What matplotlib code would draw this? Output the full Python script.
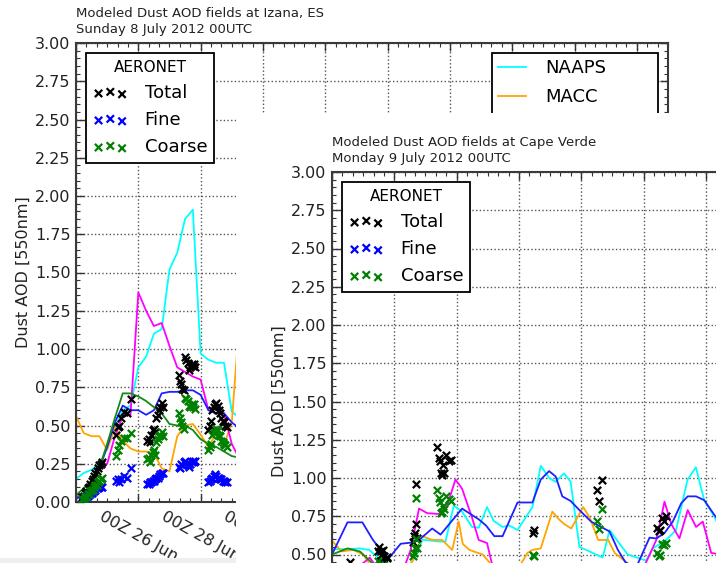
import matplotlib
matplotlib.use("Agg")
import matplotlib.pyplot as plt
from matplotlib.ticker import MultipleLocator, FuncFormatter
from matplotlib.patches import Rectangle
import datetime as dt

# ------------------------------------------------------------------
# Common
model_names = ["NAAPS", "MACC", "", "", ""]          # only the first two are legible
model_colors = ["#00ffff", "#ffa500", "#ff00ff", "#1f1fff", "#138a13"]
obs_names = ["Total", "Fine", "Coarse"]
obs_colors = ["black", "#0000ff", "#008000"]
y_label = "Dust AOD [550nm]"

# ------------------------------------------------------------------
# Panel 1: Izana (hours since 24 Jun 2012 00Z)
iz_title = "Modeled Dust AOD fields at Izana, ES\nSunday 8 July 2012 00UTC"
iz_start = dt.datetime(2012, 6, 24, 0)
iz_model_hours = [0, 6, 12, 18, 24, 30, 36, 42, 48, 54, 60, 66, 72, 78, 84,
                  90, 96, 102, 108, 114, 120, 126]
iz_naaps = [0.15, 0.19, 0.21, 0.25, 0.35, 0.48, 0.60, 0.63, 0.88, 0.95, 1.10,
            1.13, 1.52, 1.63, 1.85, 1.91, 0.97, 0.93, 0.91, 0.91, 0.59, 0.55]
iz_macc = [0.56, 0.45, 0.43, 0.43, 0.34, 0.49, 0.40, 0.35, 0.33, 0.33, 0.32,
           0.22, 0.20, 0.43, 0.50, 0.51, 0.44, 0.36, 0.45, 0.37, 0.52, 1.20]
iz_magenta = [0.035, 0.045, 0.09, 0.24, 0.25, 0.43, 0.56, 0.57, 1.37, 1.25, 1.15,
              1.17, 1.02, 0.88, 0.85, 0.82, 0.80, 0.60, 0.58, 0.58, 0.38, 0.28]
iz_blue = [0.02, 0.05, 0.10, 0.22, 0.36, 0.52, 0.63, 0.60, 0.60, 0.57, 0.60,
           0.71, 0.72, 0.72, 0.73, 0.73, 0.70, 0.60, 0.58, 0.58, 0.52, 0.48]
iz_green = [0.045, 0.09, 0.14, 0.22, 0.38, 0.55, 0.71, 0.71, 0.69, 0.66, 0.62,
            0.58, 0.51, 0.50, 0.50, 0.47, 0.41, 0.38, 0.36, 0.33, 0.30, 0.29]

iz_obs_hours = [5, 6, 7, 8, 9, 10, 11, 12, 13, 14, 15, 16, 17, 18, 19, 20,
                31, 32, 33, 35, 37, 39, 42,
                55, 56, 57, 58, 59, 60, 61, 62, 63, 64, 65, 66, 67,
                79, 80, 81, 82, 83, 84, 85, 86, 87, 88, 89, 90, 91, 92,
                102, 103, 104, 105, 106, 107, 108, 109, 110, 111, 112, 113, 114, 115, 116]
iz_total = [0.03, 0.04, 0.06, 0.07, 0.09, 0.10, 0.12, 0.14, 0.15, 0.17, 0.19, 0.20, 0.22, 0.24, 0.25, 0.26,
            0.44, 0.49, 0.50, 0.55, 0.59, 0.58, 0.67,
            0.40, 0.41, 0.39, 0.44, 0.47, 0.48, 0.46, 0.55, 0.57, 0.60, 0.62, 0.65, 0.62,
            0.83, 0.79, 0.77, 0.74, 0.73, 0.95, 0.93, 0.91, 0.86, 0.88, 0.90, 0.89, 0.90, 0.88,
            0.47, 0.50, 0.53, 0.60, 0.62, 0.64, 0.65, 0.63, 0.60, 0.58, 0.55, 0.53, 0.52, 0.50, 0.49]
iz_fine = [0.01, 0.02, 0.03, 0.03, 0.04, 0.05, 0.05, 0.06, 0.07, 0.07, 0.08, 0.09, 0.09, 0.10, 0.10, 0.10,
           0.14, 0.15, 0.13, 0.15, 0.17, 0.16, 0.22,
           0.12, 0.12, 0.13, 0.13, 0.14, 0.14, 0.15, 0.16, 0.16, 0.17, 0.18, 0.19, 0.19,
           0.23, 0.22, 0.25, 0.24, 0.26, 0.27, 0.25, 0.24, 0.23, 0.25, 0.26, 0.27, 0.26, 0.27,
           0.13, 0.14, 0.15, 0.16, 0.17, 0.18, 0.17, 0.16, 0.16, 0.15, 0.15, 0.14, 0.14, 0.13, 0.13]
iz_coarse = [0.02, 0.02, 0.03, 0.04, 0.05, 0.05, 0.07, 0.08, 0.08, 0.10, 0.11, 0.11, 0.13, 0.14, 0.15, 0.16,
             0.30, 0.34, 0.37, 0.40, 0.42, 0.42, 0.45,
             0.28, 0.29, 0.26, 0.31, 0.33, 0.34, 0.31, 0.39, 0.41, 0.43, 0.44, 0.46, 0.43,
             0.58, 0.55, 0.52, 0.50, 0.48, 0.68, 0.67, 0.66, 0.63, 0.62, 0.64, 0.62, 0.64, 0.61,
             0.34, 0.36, 0.38, 0.44, 0.45, 0.46, 0.48, 0.47, 0.44, 0.43, 0.40, 0.39, 0.38, 0.37, 0.36]

# ------------------------------------------------------------------
# Panel 2: Cape Verde (hours since 25 Jun 2012 00Z)
cv_title = "Modeled Dust AOD fields at Cape Verde\nMonday 9 July 2012 00UTC"
cv_start = dt.datetime(2012, 6, 25, 0)
cv_naaps_hours = [0, 13.8, 21.0, 28.6, 36.3, 48, 60, 64.4, 69.6, 72.1, 82.3, 87.4, 93.8,
                  100.2, 107.9, 113.0, 119.4, 124.5, 131.4, 136.5, 142.9, 154.4, 160.8,
                  167.2, 172.3, 178.7, 183.8, 190.6, 208.5, 213.8, 220.2, 227.8, 242.0,
                  247.1, 257.4, 265.0, 273.9, 280.3, 286.7, 294.4, 300]
cv_naaps = [0.535, 0.535, 0.54, 0.53, 0.475, 0.42, 0.43, 0.49, 0.595, 0.595, 0.585, 0.585,
            0.82, 0.78, 0.68, 0.675, 0.81, 0.72, 0.68, 0.69, 0.66, 0.81, 1.08, 1.00, 0.975,
            1.03, 0.975, 0.55, 0.48, 0.66, 0.585, 0.50, 0.46, 0.54, 0.595, 0.66, 0.99, 1.07,
            0.855, 0.75, 0.65]
cv_macc_hours = [0, 7.4, 16.3, 24.0, 32, 45, 55, 62.1, 69.6, 77.2, 84.9, 92.6, 97.6, 100.7,
                 105.8, 116.0, 120.6, 128, 140, 150.5, 154.4, 160.8, 169.7, 174.8, 178.7,
                 184.3, 193.5, 198.6, 205.0, 212.7, 217.8, 226.6, 235, 250, 270, 300]
cv_macc = [0.59, 0.52, 0.53, 0.50, 0.40, 0.35, 0.38, 0.46, 0.62, 0.595, 0.595, 0.53, 0.715,
           0.57, 0.53, 0.50, 0.455, 0.38, 0.36, 0.51, 0.53, 0.54, 0.78, 0.73, 0.70, 0.67,
           0.81, 0.74, 0.595, 0.595, 0.51, 0.45, 0.38, 0.33, 0.35, 0.40]
cv_magenta_hours = [0, 15, 29.1, 36, 48, 56.7, 60.6, 67.0, 73.4, 82.3, 88.7, 95.1, 100.2,
                    107.9, 113.0, 119.4, 123.2, 135, 180, 220, 237, 242.0, 249.8, 256.1,
                    261.3, 267.6, 274.0, 280.4, 285.6, 292.1, 300]
cv_magenta = [0.35, 0.38, 0.48, 0.40, 0.34, 0.44, 0.53, 0.80, 0.77, 0.765, 0.82, 0.99, 0.93,
              0.74, 0.595, 0.575, 0.44, 0.32, 0.30, 0.32, 0.38, 0.45, 0.595, 0.845, 0.70,
              0.605, 0.79, 0.68, 0.715, 0.51, 0.50]
cv_blue_hours = [0, 11.9, 23.4, 31.2, 38.9, 43.7, 52.9, 63.1, 67.0, 77.2, 83.6, 100.2, 113.0,
                 118.6, 125.0, 131.4, 142.9, 154.4, 160.8, 167.2, 172.3, 177.4, 183.8, 190.6,
                 199.6, 207.3, 213.8, 220.2, 226, 234, 244.6, 249.8, 256.1, 262.5, 269.0,
                 274.0, 280.4, 286.7, 294.4, 300]
cv_blue = [0.50, 0.71, 0.71, 0.60, 0.51, 0.475, 0.57, 0.58, 0.595, 0.67, 0.63, 0.80, 0.73,
           0.69, 0.62, 0.62, 0.84, 0.84, 0.99, 1.045, 1.01, 0.88, 0.85, 0.79, 0.715, 0.68,
           0.65, 0.53, 0.45, 0.41, 0.61, 0.605, 0.64, 0.715, 0.835, 0.88, 0.88, 0.855, 0.76,
           0.70]
cv_green_hours = [0, 12, 21.5, 29, 40, 60, 100, 150, 200, 250, 300]
cv_green = [0.50, 0.54, 0.52, 0.46, 0.36, 0.30, 0.30, 0.28, 0.30, 0.28, 0.30]

cv_obs_hours = [14.0, 35.5, 36.3, 37.0, 37.6, 38.1, 39.0, 40.0, 41.0, 42.0, 42.7,
                62.5, 63.2, 64.0, 64.4, 65.0, 65.6,
                81.1, 82.3, 83.4, 84.1, 85.0, 85.4, 86.6, 88.0, 90.5, 91.8,
                154.9, 155.4, 204.0, 205.3, 207.8,
                250.5, 252.0, 253.0, 254.3, 255.5, 256.9]
cv_total = [0.45, 0.52, 0.55, 0.46, 0.50, 0.52, 0.53, 0.49, 0.45, 0.475, 0.485,
            0.58, 0.62, 0.64, 0.96, 0.70, 0.61,
            1.20, 1.13, 1.11, 1.03, 1.02, 1.085, 1.03, 1.15, 1.11, 1.12,
            0.64, 0.66, 0.92, 0.85, 0.99,
            0.67, 0.655, 0.66, 0.74, 0.72, 0.75]
cv_fine = [0.09, 0.06, 0.12, 0.11, 0.10, 0.10, 0.10, 0.09, 0.08, 0.095, 0.085,
           0.09, 0.11, 0.10, 0.09, 0.10, 0.07,
           0.28, 0.26, 0.27, 0.26, 0.24, 0.265, 0.23, 0.27, 0.25, 0.27,
           0.14, 0.17, 0.20, 0.185, 0.19,
           0.16, 0.165, 0.16, 0.17, 0.16, 0.175]
cv_coarse = [0.36, 0.46, 0.43, 0.35, 0.40, 0.42, 0.43, 0.40, 0.37, 0.38, 0.40,
             0.49, 0.51, 0.54, 0.87, 0.60, 0.54,
             0.92, 0.87, 0.84, 0.77, 0.78, 0.82, 0.80, 0.88, 0.86, 0.85,
             0.50, 0.49, 0.72, 0.665, 0.80,
             0.51, 0.49, 0.50, 0.57, 0.56, 0.575]

# ------------------------------------------------------------------
W, H = 716, 563
fig = plt.figure(figsize=(W / 100, H / 100), dpi=100)
fig.patch.set_facecolor("white")

SPAN_H = 19 * 24          # 19 days on the time axis
AX_W, AX_H = 592, 459      # axes size in pixels
LABEL_MAX_H = 150          # date labels further right lie under the second sheet


def make_panel(left_px, top_px, title, start, series, obs, zorder,
               model_legend, date_labels):
    ax = fig.add_axes([left_px / W, 1 - (top_px + AX_H) / H, AX_W / W, AX_H / H])
    ax.set_zorder(zorder)
    ax.set_facecolor("white")
    lines = []
    for (hrs, vals), col in zip(series, model_colors):
        ln, = ax.plot(hrs, vals, color=col, lw=1.3)
        lines.append(ln)
    o_hours, o_vals = obs
    scs = []
    for vals, col in zip(o_vals, obs_colors):
        sc = ax.scatter(o_hours, vals, marker="x", s=28, linewidths=1.6,
                        color=col, zorder=3)
        scs.append(sc)
    ax.set_xlim(0, SPAN_H)
    ax.set_ylim(0, 3.0)
    ax.yaxis.set_major_locator(MultipleLocator(0.25))
    ax.yaxis.set_minor_locator(MultipleLocator(0.05))
    ax.yaxis.set_major_formatter(FuncFormatter(lambda v, p: f"{v:.2f}"))
    ax.xaxis.set_major_locator(MultipleLocator(48))
    ax.xaxis.set_minor_locator(MultipleLocator(8))
    ax.xaxis.set_major_formatter(FuncFormatter(
        lambda h, p: (start + dt.timedelta(hours=h)).strftime("%HZ %d %b")
        if 0 < h <= LABEL_MAX_H else ""))
    ax.tick_params(which="both", direction="in", top=True, right=True,
                   colors="#333333", labelcolor="#222222")
    ax.tick_params(which="major", length=6, width=1.0, labelsize=11.5, pad=4)
    ax.tick_params(which="minor", length=3, width=0.8)
    ax.tick_params(axis="x", pad=5, labelbottom=date_labels)
    for lab in ax.get_xticklabels():
        lab.set_rotation(-29)
        lab.set_ha("center")
    for sp in ax.spines.values():
        sp.set_color("#3a3a3a")
        sp.set_linewidth(1.5)
    ax.grid(True, which="major", ls=":", color="#555555", lw=1.0)
    ax.set_axisbelow(True)
    ax.set_ylabel(y_label, fontsize=11.5, color="#222222", labelpad=3)
    ax.set_title(title, loc="left", fontsize=9.5, color="#222222", pad=7,
                 linespacing=1.3)

    leg1 = ax.legend(handles=scs, labels=obs_names, title="AERONET",
                     loc="upper left", scatterpoints=3, fontsize=13,
                     title_fontsize=11, fancybox=False, framealpha=1,
                     edgecolor="black", borderaxespad=0.55, handlelength=1.9,
                     handletextpad=0.95, labelspacing=0.5, borderpad=0.4)
    leg1.get_frame().set_linewidth(1.3)
    if model_legend:
        ax.add_artist(leg1)
        # legend box spans from x = 492 px to the right edge minus the pad
        left_frac = (482 - left_px) / AX_W
        leg2 = ax.legend(handles=lines, labels=model_names, loc="upper right",
                         bbox_to_anchor=(left_frac, 0, 1 - left_frac, 1),
                         mode="expand",
                         fontsize=13, fancybox=False, framealpha=1,
                         edgecolor="black", borderaxespad=0.55, handlelength=1.55,
                         handletextpad=1.05, labelspacing=0.6, borderpad=0.35)
        leg2.get_frame().set_linewidth(1.3)
    return ax


iz_series = [(iz_model_hours, iz_naaps), (iz_model_hours, iz_macc),
             (iz_model_hours, iz_magenta), (iz_model_hours, iz_blue),
             (iz_model_hours, iz_green)]
make_panel(76, 43, iz_title, iz_start, iz_series,
           (iz_obs_hours, [iz_total, iz_fine, iz_coarse]), zorder=0,
           model_legend=True, date_labels=True)

# white sheet of the second figure laid on top of the first one
fig.add_artist(Rectangle((236 / W, 0), (W - 236) / W, (H - 113) / H,
                         transform=fig.transFigure, facecolor="white",
                         edgecolor="none", zorder=1))
# thin grey strip at the bottom left
fig.add_artist(Rectangle((0, 0), 236 / W, 5 / H, transform=fig.transFigure,
                         facecolor="#efefef", edgecolor="none", zorder=1))

cv_series = [(cv_naaps_hours, cv_naaps), (cv_macc_hours, cv_macc),
             (cv_magenta_hours, cv_magenta), (cv_blue_hours, cv_blue),
             (cv_green_hours, cv_green)]
make_panel(332, 172, cv_title, cv_start, cv_series,
           (cv_obs_hours, [cv_total, cv_fine, cv_coarse]), zorder=2,
           model_legend=False, date_labels=False)

fig.savefig("out.png", dpi=100)
